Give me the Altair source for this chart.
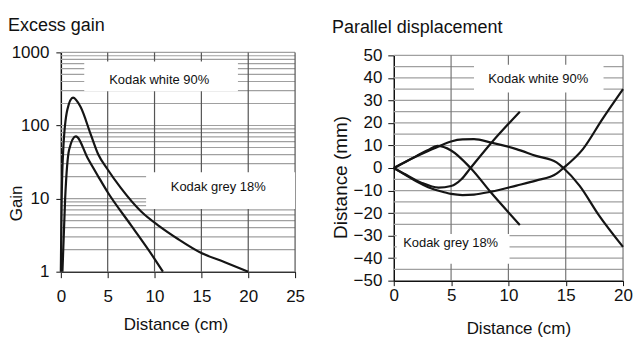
import altair as alt
import pandas as pd

FONT = "Liberation Sans"

# ---------------- Left panel: Excess gain ----------------
white_x = [0, 0.08, 0.25, 0.7, 1.3, 2.1, 3.2, 4.0, 5.0, 6.4, 8.6, 10.5, 12.5, 15.0, 17.5, 20.0]
white_gain = [1, 8, 45, 165, 240, 180, 75, 40, 25, 14, 6.6, 4.2, 2.8, 1.8, 1.35, 1.0]
grey_x = [0.17, 0.46, 0.89, 1.6, 2.9, 4.0, 5.0, 7.5, 10.0, 10.9]
grey_gain = [1, 10, 47, 71, 35, 20, 12.2, 4.3, 1.5, 1.0]

gain_ticks = [1, 10, 100, 1000]
gain_minor = [m * d for d in (1, 10, 100) for m in range(1, 10)] + [1000]
left_xticks = [0, 5, 10, 15, 20, 25]
left_vgrid = [5, 10, 15, 20, 25]

left_labels = ["Kodak white 90%", "Kodak grey 18%"]
left_label_x = [10.5, 16.8]
left_label_y = [415, 14.6]
left_box_x = [2.5, 9.1]
left_box_x2 = [18.9, 25.0]
left_box_y = [294, 7.2]
left_box_y2 = [753, 23.0]

# ---------------- Right panel: Parallel displacement ----------------
a_x = [0, 1, 2, 3, 4, 5, 6, 7, 8.5, 10.7, 12.4, 14.2, 14.8, 16.5, 18.2, 20]
a_y = [0, -3, -6, -8.5, -10.2, -11.5, -12, -11.8, -10.5, -7.8, -5.6, -2.5, 0, 8.4, 21.7, 35]
b_x = [0, 1, 2, 3, 4, 5, 6, 7, 8.5, 10.7, 12.4, 14.2, 14.8, 16.2, 17.9, 20]
b_y = [0, 2.7, 5.2, 7.5, 9.8, 11.8, 12.7, 12.8, 11.3, 8.4, 5.4, 2.5, 0, -7.8, -21, -35]
c_x = [0, 1, 2.4, 3.9, 5.0, 5.9, 6.7, 8.5, 11]
c_y = [0, -2.8, -6.5, -8.7, -8.0, -5.0, 0, 11.1, 25]
d_x = [0, 1, 2, 3, 3.8, 5.0, 6.7, 8.5, 11]
d_y = [0, 2.7, 5.4, 8, 9.8, 7.8, 0, -11, -25.3]

right_yticks = list(range(-50, 51, 10))
right_hgrid = list(range(-45, 51, 5))
right_xticks = [0, 5, 10, 15, 20]
right_vgrid = [5, 10, 15, 20]

right_labels = ["Kodak white 90%", "Kodak grey 18%"]
right_label_x = [12.6, 4.96]
right_label_y = [39.7, -33.3]
right_box_x = [7.0, 0.26]
right_box_x2 = [18.3, 10.1]
right_box_y = [33.5, -42.5]
right_box_y2 = [45.8, -29.3]

# ---------------- data frames ----------------
left_curves = pd.DataFrame(
    {"x": white_x + grey_x,
     "y": white_gain + grey_gain,
     "s": ["white"] * len(white_x) + ["grey"] * len(grey_x),
     "o": list(range(len(white_x))) + list(range(len(grey_x)))})
left_text = pd.DataFrame({"t": left_labels, "x": left_label_x, "y": left_label_y})
left_boxes = pd.DataFrame({"x": left_box_x, "x2": left_box_x2, "y": left_box_y, "y2": left_box_y2})
left_hg = pd.DataFrame({"y": gain_minor})
left_vg = pd.DataFrame({"x": left_vgrid})

series = [("a", a_x, a_y), ("b", b_x, b_y), ("c", c_x, c_y), ("d", d_x, d_y)]
rows = []
for name, xs, ys in series:
    for i, (xv, yv) in enumerate(zip(xs, ys)):
        rows.append({"x": xv, "y": yv, "s": name, "o": i})
right_curves = pd.DataFrame(rows)
right_text = pd.DataFrame({"t": right_labels, "x": right_label_x, "y": right_label_y})
right_boxes = pd.DataFrame({"x": right_box_x, "x2": right_box_x2, "y": right_box_y, "y2": right_box_y2})
right_hg = pd.DataFrame({"y": right_hgrid})
right_vg = pd.DataFrame({"x": right_vgrid})

axis_common = dict(
    labelFont=FONT, titleFont=FONT, labelFontSize=17, titleFontSize=17,
    titleFontWeight="normal", labelColor="#111", titleColor="#111",
    domainColor="#111", domainWidth=1.5, tickColor="#111", grid=False,
    labelFlush=False,
)

# ---------------- left chart ----------------
lx = alt.Scale(domain=[0, 25], nice=False, zero=False)
ly = alt.Scale(type="log", domain=[1, 1000], nice=False)
lx_axis = alt.Axis(values=left_xticks, title="Distance (cm)", tickSize=6, labelPadding=11,
                   titleX=115, titleY=58, titleBaseline="alphabetic", **axis_common)
ly_axis = alt.Axis(values=gain_ticks, format="d", title="Gain", tickSize=5, labelPadding=7,
                   titleX=-39, titleY=151, titleBaseline="alphabetic", **axis_common)
LX = lambda f: alt.X(f, scale=lx, axis=lx_axis)
LY = lambda f: alt.Y(f, scale=ly, axis=ly_axis)

l_hgrid = alt.Chart(left_hg).mark_rule(color="#a0a0a0", strokeWidth=1.2).encode(y=LY("y:Q"))
l_vgrid = alt.Chart(left_vg).mark_rule(color="#555", strokeWidth=1.2).encode(x=LX("x:Q"))
l_box = alt.Chart(left_boxes).mark_rect(fill="white").encode(
    x=LX("x:Q"), x2="x2:Q", y=LY("y:Q"), y2="y2:Q")
l_line = alt.Chart(left_curves).mark_line(
    color="#151515", strokeWidth=2.2, interpolate="monotone").encode(
    x=LX("x:Q"), y=LY("y:Q"), detail="s:N", order="o:Q")
l_txt = alt.Chart(left_text).mark_text(font=FONT, fontSize=13, color="#111").encode(
    x=LX("x:Q"), y=LY("y:Q"), text="t:N")

left = alt.layer(l_hgrid, l_vgrid, l_box, l_line, l_txt).properties(
    width=235, height=220,
    title=alt.TitleParams("Excess gain", anchor="start", font=FONT, fontSize=18,
                          fontWeight="normal", color="#111", offset=8))

# ---------------- right chart ----------------
rx = alt.Scale(domain=[0, 20], nice=False, zero=False)
ry = alt.Scale(domain=[-50, 50], nice=False, zero=False, range=[229, 3])
rx_axis = alt.Axis(values=right_xticks, title="Distance (cm)", tickSize=5, labelPadding=2,
                   titleX=125, titleY=53, titleBaseline="alphabetic", **axis_common)
ry_axis = alt.Axis(values=right_yticks, title="Distance (mm)", tickSize=6, labelPadding=6,
                   titleX=-47, titleY=125, titleBaseline="alphabetic",
                   **{**axis_common, "titleFontSize": 19})
RX = lambda f: alt.X(f, scale=rx, axis=rx_axis)
RY = lambda f: alt.Y(f, scale=ry, axis=ry_axis)

r_hgrid = alt.Chart(right_hg).mark_rule(color="#a0a0a0", strokeWidth=1.2).encode(y=RY("y:Q"))
r_vgrid = alt.Chart(right_vg).mark_rule(color="#777", strokeWidth=1.2).encode(
    x=RX("x:Q"), y=alt.value(3), y2=alt.value(229))
r_box = alt.Chart(right_boxes).mark_rect(fill="white").encode(
    x=RX("x:Q"), x2="x2:Q", y=RY("y:Q"), y2="y2:Q")
r_line = alt.Chart(right_curves).mark_line(
    color="#151515", strokeWidth=2.2, interpolate="monotone").encode(
    x=RX("x:Q"), y=RY("y:Q"), detail="s:N", order="o:Q")
r_txt = alt.Chart(right_text).mark_text(font=FONT, fontSize=13, color="#111").encode(
    x=RX("x:Q"), y=RY("y:Q"), text="t:N")

right = alt.layer(r_hgrid, r_vgrid, r_box, r_line, r_txt).properties(
    width=230, height=229,
    title=alt.TitleParams("Parallel displacement", anchor="start", font=FONT, fontSize=18,
                          fontWeight="normal", color="#111", offset=9))

chart = alt.hconcat(left, right, spacing=27).properties(
    padding={"top": 9, "left": 0, "right": 0, "bottom": 0}, background="white"
).configure_view(stroke=None)

chart.save("out.html", embed_options={"renderer": "svg", "actions": False})
